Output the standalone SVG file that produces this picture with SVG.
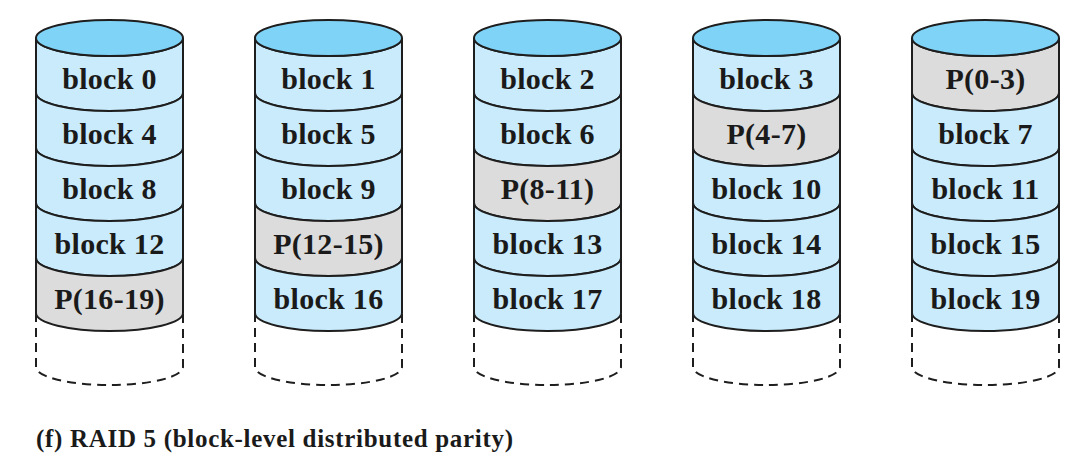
<svg xmlns="http://www.w3.org/2000/svg" width="1080" height="473" viewBox="0 0 1080 473">
<style>
.top{fill:#7fd3f7;stroke:#1e1e1e;stroke-width:2}
.b{fill:#c9ebfb;stroke:#1e1e1e;stroke-width:2}
.p{fill:#dcdcdc;stroke:#1e1e1e;stroke-width:2}
.d{fill:none;stroke:#1e1e1e;stroke-width:2;stroke-dasharray:9 6}
.t{font-family:"Liberation Serif","Times New Roman",serif;font-weight:bold;font-size:30px;letter-spacing:0.3px;fill:#1a1a1a;text-anchor:middle}
.c{font-family:"Liberation Serif","Times New Roman",serif;font-weight:bold;font-size:25px;fill:#1a1a1a}
</style>
<defs>
<path id="band" d="M-73.5 0 A73.5 18 0 0 0 73.5 0 L73.5 55 A73.5 18 0 0 1 -73.5 55 Z"/>
</defs>
<g id="connectors"></g>

<g id="disk0" transform="translate(109.5,0)">
<use href="#band" class="b" y="38"/>
<use href="#band" class="b" y="93"/>
<use href="#band" class="b" y="148"/>
<use href="#band" class="b" y="203"/>
<use href="#band" class="p" y="258"/>
<ellipse class="top" cx="0" cy="38" rx="73.5" ry="18"/>
<path class="d" d="M-73.5 313 L-73.5 367 A73.5 18 0 0 0 73.5 367 L73.5 313"/>
<text class="t" x="0" y="89">block 0</text>
<text class="t" x="0" y="144">block 4</text>
<text class="t" x="0" y="199">block 8</text>
<text class="t" x="0" y="254">block 12</text>
<text class="t" x="0" y="309">P(16-19)</text>
</g>

<g id="disk1" transform="translate(328.5,0)">
<use href="#band" class="b" y="38"/>
<use href="#band" class="b" y="93"/>
<use href="#band" class="b" y="148"/>
<use href="#band" class="p" y="203"/>
<use href="#band" class="b" y="258"/>
<ellipse class="top" cx="0" cy="38" rx="73.5" ry="18"/>
<path class="d" d="M-73.5 313 L-73.5 367 A73.5 18 0 0 0 73.5 367 L73.5 313"/>
<text class="t" x="0" y="89">block 1</text>
<text class="t" x="0" y="144">block 5</text>
<text class="t" x="0" y="199">block 9</text>
<text class="t" x="0" y="254">P(12-15)</text>
<text class="t" x="0" y="309">block 16</text>
</g>

<g id="disk2" transform="translate(547.5,0)">
<use href="#band" class="b" y="38"/>
<use href="#band" class="b" y="93"/>
<use href="#band" class="p" y="148"/>
<use href="#band" class="b" y="203"/>
<use href="#band" class="b" y="258"/>
<ellipse class="top" cx="0" cy="38" rx="73.5" ry="18"/>
<path class="d" d="M-73.5 313 L-73.5 367 A73.5 18 0 0 0 73.5 367 L73.5 313"/>
<text class="t" x="0" y="89">block 2</text>
<text class="t" x="0" y="144">block 6</text>
<text class="t" x="0" y="199">P(8-11)</text>
<text class="t" x="0" y="254">block 13</text>
<text class="t" x="0" y="309">block 17</text>
</g>

<g id="disk3" transform="translate(766.5,0)">
<use href="#band" class="b" y="38"/>
<use href="#band" class="p" y="93"/>
<use href="#band" class="b" y="148"/>
<use href="#band" class="b" y="203"/>
<use href="#band" class="b" y="258"/>
<ellipse class="top" cx="0" cy="38" rx="73.5" ry="18"/>
<path class="d" d="M-73.5 313 L-73.5 367 A73.5 18 0 0 0 73.5 367 L73.5 313"/>
<text class="t" x="0" y="89">block 3</text>
<text class="t" x="0" y="144">P(4-7)</text>
<text class="t" x="0" y="199">block 10</text>
<text class="t" x="0" y="254">block 14</text>
<text class="t" x="0" y="309">block 18</text>
</g>

<g id="disk4" transform="translate(985.5,0)">
<use href="#band" class="p" y="38"/>
<use href="#band" class="b" y="93"/>
<use href="#band" class="b" y="148"/>
<use href="#band" class="b" y="203"/>
<use href="#band" class="b" y="258"/>
<ellipse class="top" cx="0" cy="38" rx="73.5" ry="18"/>
<path class="d" d="M-73.5 313 L-73.5 367 A73.5 18 0 0 0 73.5 367 L73.5 313"/>
<text class="t" x="0" y="89">P(0-3)</text>
<text class="t" x="0" y="144">block 7</text>
<text class="t" x="0" y="199">block 11</text>
<text class="t" x="0" y="254">block 15</text>
<text class="t" x="0" y="309">block 19</text>
</g>

<text id="caption" class="c" x="36" y="447" textLength="477" lengthAdjust="spacing">(f) RAID 5 (block-level distributed parity)</text>
</svg>
